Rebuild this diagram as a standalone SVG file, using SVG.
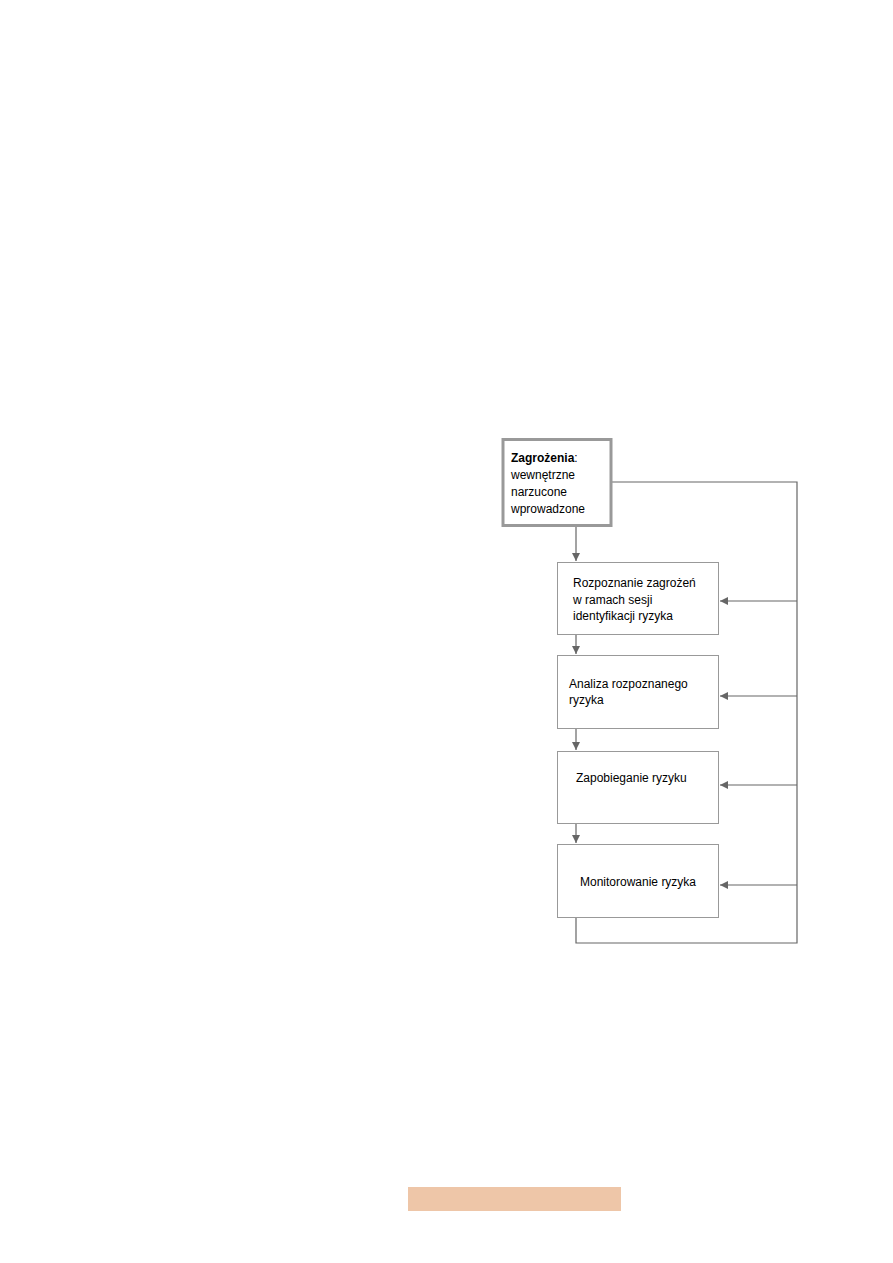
<svg xmlns="http://www.w3.org/2000/svg" width="893" height="1263" viewBox="0 0 893 1263">
<style>
.box{fill:#fff;stroke:#999;stroke-width:1}
.t{font-family:"Liberation Sans",Arial,sans-serif;font-size:12px;fill:#000}
.c{fill:none;stroke:#666;stroke-width:1.2}
</style>
<defs>
<marker id="ah" viewBox="0 0 10 10" refX="10" refY="5" markerWidth="8" markerHeight="8" markerUnits="userSpaceOnUse" orient="auto">
<path d="M0,0 L10,5 L0,10 z" fill="#666"/>
</marker>
</defs>
<rect width="893" height="1263" fill="#fff"/>
<g id="connectors">
<polyline class="c" points="612,482 797,482 797,943 576,943 576,918"/>
<line class="c" x1="576" y1="527" x2="576" y2="561" marker-end="url(#ah)"/>
<line class="c" x1="576" y1="635" x2="576" y2="654" marker-end="url(#ah)"/>
<line class="c" x1="576" y1="729" x2="576" y2="750" marker-end="url(#ah)"/>
<line class="c" x1="576" y1="824" x2="576" y2="843" marker-end="url(#ah)"/>
<line class="c" x1="797" y1="601" x2="720" y2="601" marker-end="url(#ah)"/>
<line class="c" x1="797" y1="696" x2="720" y2="696" marker-end="url(#ah)"/>
<line class="c" x1="797" y1="785" x2="720" y2="785" marker-end="url(#ah)"/>
<line class="c" x1="797" y1="885" x2="720" y2="885" marker-end="url(#ah)"/>
</g>
<g id="n1">
<rect x="503" y="439.5" width="108" height="86" fill="#fff" stroke="#999" stroke-width="3"/>
<text class="t" x="511" y="462"><tspan font-weight="bold">Zagrożenia</tspan>:</text>
<text class="t" x="511" y="479">wewnętrzne</text>
<text class="t" x="511" y="496">narzucone</text>
<text class="t" x="511" y="513">wprowadzone</text>
</g>
<g id="n2">
<rect class="box" x="557.5" y="562.5" width="161" height="72"/>
<text class="t" x="573" y="587">Rozpoznanie zagrożeń</text>
<text class="t" x="573" y="603.5">w ramach sesji</text>
<text class="t" x="573" y="620">identyfikacji ryzyka</text>
</g>
<g id="n3">
<rect class="box" x="557.5" y="655.5" width="161" height="73"/>
<text class="t" x="569" y="688">Analiza rozpoznanego</text>
<text class="t" x="569" y="704">ryzyka</text>
</g>
<g id="n4">
<rect class="box" x="557.5" y="751.5" width="161" height="72"/>
<text class="t" x="576" y="782">Zapobieganie ryzyku</text>
</g>
<g id="n5">
<rect class="box" x="557.5" y="844.5" width="161" height="73"/>
<text class="t" x="580" y="886">Monitorowanie ryzyka</text>
</g>
<rect id="bar" x="408" y="1187" width="213" height="24" fill="#EEC6A8"/>
</svg>
